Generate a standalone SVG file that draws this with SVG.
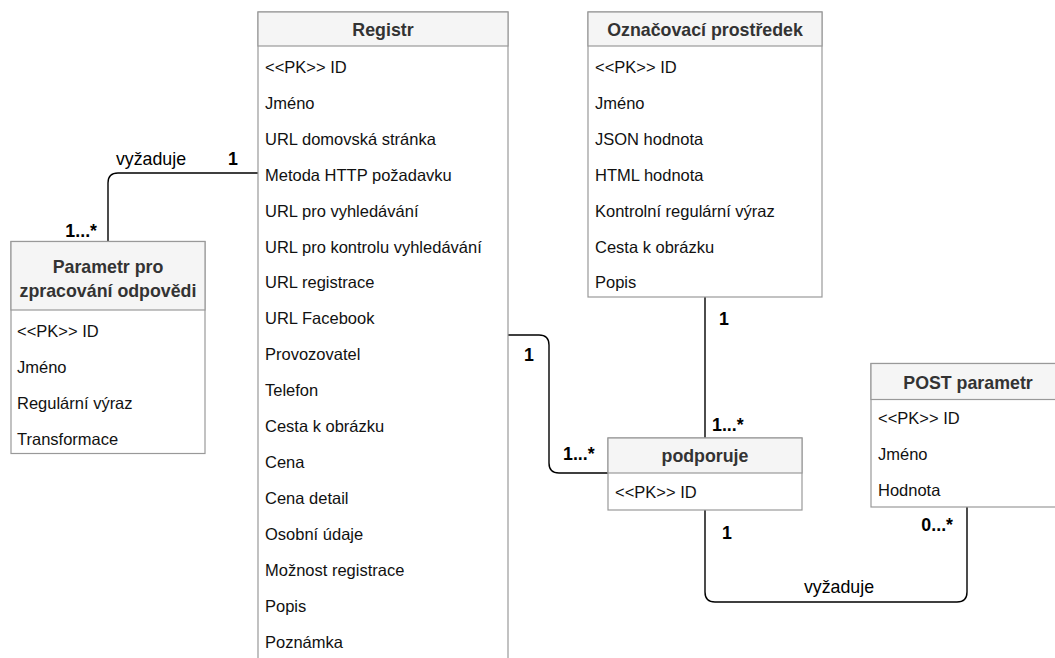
<svg xmlns="http://www.w3.org/2000/svg" width="1055" height="658" viewBox="0 0 1055 658">
<style>
.box{fill:#ffffff;stroke:#999999;stroke-width:1.2}
.hdr{fill:#f5f5f5;stroke:#999999;stroke-width:1.2}
.ht{font-family:"Liberation Sans",Arial,sans-serif;font-size:17.8px;font-weight:bold;fill:#333333;text-anchor:middle}
.rt{font-family:"Liberation Sans",Arial,sans-serif;font-size:16.5px;fill:#111111}
.lb{font-family:"Liberation Sans",Arial,sans-serif;font-size:17.8px;font-weight:bold;fill:#000000}
.lt{font-family:"Liberation Sans",Arial,sans-serif;font-size:17.8px;fill:#000000;text-anchor:middle}
.con{fill:none;stroke:#000000;stroke-width:1.4}
</style>
<rect width="1055" height="658" fill="#ffffff"/>
<g id="connectors">
<path class="con" d="M258,173 H118 Q108,173 108,183 V241.5"/>
<path class="con" d="M508,335 H539 Q549,335 549,345 V463 Q549,473 559,473 H608"/>
<path class="con" d="M705,297 V438"/>
<path class="con" d="M705,510 V592 Q705,602 715,602 H957 Q967,602 967,592 V507"/>
<text class="lt" x="151" y="165">vyžaduje</text>
<text class="lb" x="228" y="165">1</text>
<text class="lb" x="97" y="237" text-anchor="end">1...*</text>
<text class="lb" x="524" y="361">1</text>
<text class="lb" x="563" y="460">1...*</text>
<text class="lb" x="719" y="325">1</text>
<text class="lb" x="712" y="431">1...*</text>
<text class="lb" x="722" y="539">1</text>
<text class="lb" x="953" y="531" text-anchor="end">0...*</text>
<text class="lt" x="839" y="593">vyžaduje</text>
</g>
<g id="registr">
<rect class="box" x="258" y="12" width="250" height="660"/>
<rect class="hdr" x="258" y="12" width="250" height="34"/>
<text class="ht" x="383" y="36">Registr</text>
<text class="rt" x="265" y="73">&lt;&lt;PK&gt;&gt; ID</text>
<text class="rt" x="265" y="109">Jméno</text>
<text class="rt" x="265" y="145">URL domovská stránka</text>
<text class="rt" x="265" y="181">Metoda HTTP požadavku</text>
<text class="rt" x="265" y="217">URL pro vyhledávání</text>
<text class="rt" x="265" y="253">URL pro kontrolu vyhledávání</text>
<text class="rt" x="265" y="288">URL registrace</text>
<text class="rt" x="265" y="324">URL Facebook</text>
<text class="rt" x="265" y="360">Provozovatel</text>
<text class="rt" x="265" y="396">Telefon</text>
<text class="rt" x="265" y="432">Cesta k obrázku</text>
<text class="rt" x="265" y="468">Cena</text>
<text class="rt" x="265" y="504">Cena detail</text>
<text class="rt" x="265" y="540">Osobní údaje</text>
<text class="rt" x="265" y="576">Možnost registrace</text>
<text class="rt" x="265" y="612">Popis</text>
<text class="rt" x="265" y="648">Poznámka</text>
</g>
<g id="oznacovaci">
<rect class="box" x="588" y="12" width="234" height="285"/>
<rect class="hdr" x="588" y="12" width="234" height="34"/>
<text class="ht" x="705" y="36">Označovací prostředek</text>
<text class="rt" x="595" y="73">&lt;&lt;PK&gt;&gt; ID</text>
<text class="rt" x="595" y="109">Jméno</text>
<text class="rt" x="595" y="145">JSON hodnota</text>
<text class="rt" x="595" y="181">HTML hodnota</text>
<text class="rt" x="595" y="217">Kontrolní regulární výraz</text>
<text class="rt" x="595" y="253">Cesta k obrázku</text>
<text class="rt" x="595" y="288">Popis</text>
</g>
<g id="parametr">
<rect class="box" x="11" y="241.5" width="194" height="212"/>
<rect class="hdr" x="11" y="241.5" width="194" height="68.5"/>
<text class="ht" x="108" y="273">Parametr pro</text>
<text class="ht" x="108" y="297">zpracování odpovědi</text>
<text class="rt" x="17" y="337">&lt;&lt;PK&gt;&gt; ID</text>
<text class="rt" x="17" y="373">Jméno</text>
<text class="rt" x="17" y="409">Regulární výraz</text>
<text class="rt" x="17" y="445">Transformace</text>
</g>
<g id="podporuje">
<rect class="box" x="608" y="438" width="194" height="72"/>
<rect class="hdr" x="608" y="438" width="194" height="35"/>
<text class="ht" x="705" y="462">podporuje</text>
<text class="rt" x="615" y="498">&lt;&lt;PK&gt;&gt; ID</text>
</g>
<g id="post">
<rect class="box" x="871" y="363.5" width="194" height="143.5"/>
<rect class="hdr" x="871" y="363.5" width="194" height="36"/>
<text class="ht" x="968" y="389">POST parametr</text>
<text class="rt" x="878" y="424">&lt;&lt;PK&gt;&gt; ID</text>
<text class="rt" x="878" y="460">Jméno</text>
<text class="rt" x="878" y="496">Hodnota</text>
</g>
</svg>
